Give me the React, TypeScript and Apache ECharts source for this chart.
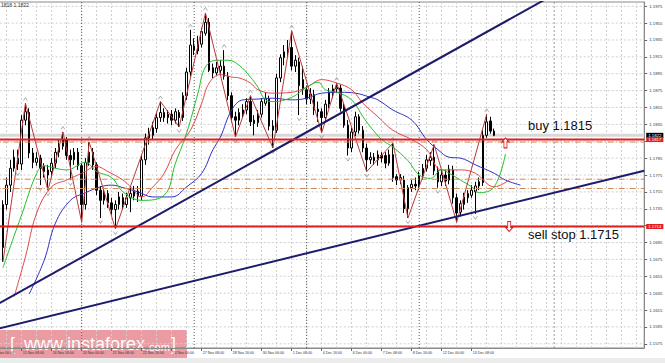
import { useEffect, useRef } from 'react';
import * as echarts from 'echarts';

const MONTHS = ['Jan', 'Feb', 'Mar', 'Apr', 'May', 'Jun', 'Jul', 'Aug', 'Sep', 'Oct', 'Nov', 'Dec'];
const START_UTC = Date.UTC(2017, 10, 14, 0, 0);
const BAR_COUNT = 175;
const LEAD = 3; // H4 bars before the first drawn candle (14 Nov 00:00 .. 08:00)

// OHLC of the H4 candles, from 14 Nov 12:00
const opens = [
  1.1689, 1.1740, 1.1763, 1.1783, 1.1795, 1.1788, 1.1840, 1.1849, 1.1801, 1.1790,
  1.1795, 1.1785, 1.1775, 1.1779, 1.1789, 1.1802, 1.1809, 1.1817, 1.1798, 1.1793,
  1.1802, 1.1786, 1.1740, 1.1790, 1.1802, 1.1787, 1.1757, 1.1745, 1.1753, 1.1742,
  1.1734, 1.1740, 1.1748, 1.1740, 1.1748, 1.1750, 1.1756, 1.1750, 1.1793, 1.1819,
  1.1822, 1.1830, 1.1843, 1.1849, 1.1843, 1.1847, 1.1840, 1.1849, 1.1843, 1.1869,
  1.1897, 1.1928, 1.1922, 1.1930, 1.1943, 1.1956, 1.1902, 1.1896, 1.1899, 1.1904,
  1.1892, 1.1869, 1.1844, 1.1840, 1.1847, 1.1852, 1.1862, 1.1840, 1.1837, 1.1847,
  1.1860, 1.1865, 1.1833, 1.1828, 1.1890, 1.1914, 1.1921, 1.1926, 1.1904, 1.1909,
  1.1888, 1.1876, 1.1865, 1.1870, 1.1853, 1.1850, 1.1843, 1.1859, 1.1872, 1.1877,
  1.1878, 1.1856, 1.1834, 1.1807, 1.1826, 1.1844, 1.1828, 1.1807, 1.1793, 1.1796,
  1.1793, 1.1798, 1.1798, 1.1789, 1.1799, 1.1773, 1.1769, 1.1769, 1.1735, 1.1760,
  1.1764, 1.1762, 1.1774, 1.1783, 1.1792, 1.1796, 1.1780, 1.1767, 1.1775, 1.1769,
  1.1781, 1.1748, 1.1731, 1.1740, 1.1748, 1.1751, 1.1755, 1.1762, 1.1766, 1.1822,
  1.1839, 1.1827,
];
const closes = [
  1.1740, 1.1763, 1.1783, 1.1796, 1.1788, 1.1840, 1.1850, 1.1801, 1.1790, 1.1795,
  1.1783, 1.1779, 1.1781, 1.1789, 1.1802, 1.1811, 1.1817, 1.1798, 1.1793, 1.1802,
  1.1786, 1.1740, 1.1790, 1.1802, 1.1787, 1.1757, 1.1745, 1.1754, 1.1742, 1.1734,
  1.1740, 1.1749, 1.1740, 1.1748, 1.1753, 1.1757, 1.1750, 1.1793, 1.1819, 1.1824,
  1.1831, 1.1843, 1.1849, 1.1843, 1.1847, 1.1840, 1.1850, 1.1843, 1.1869, 1.1897,
  1.1929, 1.1923, 1.1930, 1.1945, 1.1956, 1.1899, 1.1896, 1.1902, 1.1904, 1.1892,
  1.1869, 1.1843, 1.1840, 1.1849, 1.1852, 1.1862, 1.1838, 1.1836, 1.1846, 1.1862,
  1.1866, 1.1833, 1.1828, 1.1890, 1.1914, 1.1921, 1.1924, 1.1904, 1.1911, 1.1881,
  1.1876, 1.1865, 1.1871, 1.1852, 1.1850, 1.1843, 1.1859, 1.1873, 1.1877, 1.1879,
  1.1854, 1.1834, 1.1807, 1.1826, 1.1844, 1.1828, 1.1807, 1.1793, 1.1796, 1.1792,
  1.1799, 1.1795, 1.1789, 1.1799, 1.1772, 1.1769, 1.1772, 1.1735, 1.1760, 1.1764,
  1.1762, 1.1774, 1.1783, 1.1793, 1.1796, 1.1780, 1.1767, 1.1775, 1.1768, 1.1782,
  1.1748, 1.1730, 1.1741, 1.1749, 1.1753, 1.1757, 1.1762, 1.1767, 1.1822, 1.1838,
  1.1827, 1.1822,
];
const lows = [
  1.1672, 1.1734, 1.1755, 1.1779, 1.1781, 1.1781, 1.1834, 1.1795, 1.1783, 1.1786,
  1.1763, 1.1772, 1.1757, 1.1772, 1.1783, 1.1796, 1.1805, 1.1793, 1.1769, 1.1787,
  1.1781, 1.1719, 1.1734, 1.1786, 1.1781, 1.1751, 1.1724, 1.1740, 1.1736, 1.1728,
  1.1711, 1.1734, 1.1734, 1.1736, 1.1731, 1.1745, 1.1743, 1.1745, 1.1787, 1.1811,
  1.1817, 1.1825, 1.1838, 1.1838, 1.1836, 1.1834, 1.1836, 1.1832, 1.1839, 1.1864,
  1.1892, 1.1917, 1.1918, 1.1926, 1.1940, 1.1897, 1.1890, 1.1892, 1.1895, 1.1888,
  1.1864, 1.1838, 1.1820, 1.1834, 1.1843, 1.1847, 1.1833, 1.1822, 1.1832, 1.1843,
  1.1857, 1.1828, 1.1807, 1.1825, 1.1885, 1.1905, 1.1914, 1.1899, 1.1897, 1.1846,
  1.1870, 1.1859, 1.1859, 1.1846, 1.1838, 1.1825, 1.1838, 1.1854, 1.1866, 1.1872,
  1.1850, 1.1831, 1.1798, 1.1802, 1.1821, 1.1824, 1.1802, 1.1779, 1.1788, 1.1787,
  1.1786, 1.1790, 1.1783, 1.1786, 1.1767, 1.1763, 1.1764, 1.1730, 1.1724, 1.1755,
  1.1757, 1.1757, 1.1769, 1.1779, 1.1786, 1.1775, 1.1760, 1.1762, 1.1762, 1.1764,
  1.1741, 1.1719, 1.1726, 1.1734, 1.1742, 1.1748, 1.1729, 1.1757, 1.1762, 1.1819,
  1.1824, 1.1821,
];
const highs = [
  1.1745, 1.1772, 1.1793, 1.1805, 1.1805, 1.1846, 1.1860, 1.1854, 1.1807, 1.1802,
  1.1799, 1.1789, 1.1787, 1.1795, 1.1807, 1.1817, 1.1826, 1.1820, 1.1805, 1.1807,
  1.1807, 1.1789, 1.1795, 1.1814, 1.1807, 1.1790, 1.1762, 1.1760, 1.1757, 1.1748,
  1.1745, 1.1755, 1.1753, 1.1754, 1.1760, 1.1762, 1.1762, 1.1799, 1.1824, 1.1831,
  1.1838, 1.1849, 1.1862, 1.1854, 1.1852, 1.1852, 1.1854, 1.1852, 1.1873, 1.1902,
  1.1947, 1.1937, 1.1940, 1.1949, 1.1967, 1.1961, 1.1907, 1.1909, 1.1911, 1.1923,
  1.1897, 1.1873, 1.1850, 1.1854, 1.1859, 1.1866, 1.1869, 1.1846, 1.1852, 1.1866,
  1.1873, 1.1869, 1.1840, 1.1895, 1.1918, 1.1929, 1.1935, 1.1946, 1.1917, 1.1914,
  1.1904, 1.1881, 1.1878, 1.1876, 1.1862, 1.1854, 1.1864, 1.1878, 1.1882, 1.1884,
  1.1882, 1.1860, 1.1840, 1.1831, 1.1850, 1.1847, 1.1833, 1.1812, 1.1802, 1.1801,
  1.1804, 1.1802, 1.1802, 1.1805, 1.1813, 1.1776, 1.1776, 1.1774, 1.1763, 1.1769,
  1.1772, 1.1779, 1.1788, 1.1799, 1.1802, 1.1811, 1.1785, 1.1781, 1.1781, 1.1787,
  1.1786, 1.1753, 1.1745, 1.1754, 1.1757, 1.1763, 1.1767, 1.1772, 1.1828, 1.1847,
  1.1844, 1.1830,
];

// Alligator lines: [bar index, price]
const lipsGreen = [
  [0, 1.1665], [1, 1.1678], [5, 1.1728], [9, 1.1777], [11, 1.1786], [14, 1.1783], [17, 1.1781],
  [22, 1.1790], [25, 1.1779], [29, 1.1772], [32, 1.1755], [37, 1.1745], [43, 1.1751],
  [46, 1.1789], [49, 1.1825], [52, 1.1872], [54, 1.1903], [57, 1.1911], [60, 1.1911],
  [63, 1.1905], [66, 1.1891], [68, 1.1879], [70, 1.1864], [72, 1.1862], [77, 1.1867],
  [81, 1.1879], [84, 1.1885], [86, 1.1876], [89, 1.1873], [93, 1.1864], [96, 1.1844],
  [98, 1.1832], [101, 1.1817], [104, 1.1808], [108, 1.1792], [111, 1.1775], [114, 1.1771],
  [117, 1.1781], [119, 1.1777], [122, 1.1769], [125, 1.1761], [127, 1.1754], [131, 1.1761],
  [134, 1.1800],
];
const teethRed = [
  [3, 1.1631], [6, 1.1678], [9, 1.1730], [13, 1.1761], [17, 1.1769], [21, 1.1777], [25, 1.1785],
  [28, 1.1779], [32, 1.1769], [34, 1.1761], [37, 1.1749], [40, 1.1761], [43, 1.1777],
  [46, 1.1805], [50, 1.1828], [53, 1.1860], [55, 1.1884], [58, 1.1894], [61, 1.1891],
  [63, 1.1890], [66, 1.1884], [68, 1.1876], [72, 1.1872], [77, 1.1873], [81, 1.1879],
  [85, 1.1888], [89, 1.1884], [93, 1.1876], [96, 1.1860], [100, 1.1844], [104, 1.1828],
  [109, 1.1817], [113, 1.1805], [117, 1.1781], [122, 1.1781], [126, 1.1777], [131, 1.1761],
  [135, 1.1769],
];
const jawBlue = [
  [7, 1.1634], [11, 1.1674], [14, 1.1718], [18, 1.1745], [22, 1.1754], [26, 1.1761], [29, 1.1763],
  [32, 1.1760], [36, 1.1755], [40, 1.1749], [45, 1.1749], [49, 1.1761], [53, 1.1777],
  [56, 1.1805], [58, 1.1820], [61, 1.1852], [64, 1.1864], [68, 1.1865], [72, 1.1866],
  [77, 1.1864], [81, 1.1866], [85, 1.1872], [90, 1.1873], [94, 1.1872], [98, 1.1867],
  [100, 1.1864], [104, 1.1852], [109, 1.1840], [113, 1.1817], [116, 1.1805], [119, 1.1796],
  [122, 1.1795], [126, 1.1787], [131, 1.1777], [134, 1.1769], [138, 1.1763],
];

// ZigZag pivots (bar index, H = high / L = low)
const zigzagPivots: [number, 'H' | 'L'][] = [
  [0, 'L'], [6, 'H'], [12, 'L'], [16, 'H'], [21, 'L'], [23, 'H'], [30, 'L'], [42, 'H'],
  [47, 'L'], [54, 'H'], [62, 'L'], [66, 'H'], [72, 'L'], [77, 'H'], [85, 'L'], [89, 'H'],
  [97, 'L'], [104, 'H'], [108, 'L'], [115, 'H'], [121, 'L'], [129, 'H'],
];
// Fractal arrows
const fractalUp = [6, 16, 23, 42, 50, 54, 59, 66, 77, 89, 104, 115, 129];
const fractalDown = [4, 10, 12, 18, 21, 26, 30, 47, 62, 72, 79, 85, 92, 97, 108, 116, 121, 126];

// Trend lines: [category index, price]
const steepTrend = [[0, 1.1618], [150, 1.1989]];
const flatTrend = [[0, 1.1591], [174, 1.1780]];

// Price scale
const priceTicks = [
  1.1575, 1.1595, 1.1615, 1.1635, 1.1655, 1.1675, 1.1695, 1.1715, 1.1735, 1.1755, 1.1775,
  1.1795, 1.1815, 1.1835, 1.1855, 1.1875, 1.1895, 1.1915, 1.1935, 1.1955, 1.1975,
];
const hiddenTickLabels = [1.1715, 1.1815];
const priceMin = 1.157;
const priceMax = 1.198;

// Horizontal / vertical objects
const buyLevel = 1.1817;
const sellLevel = 1.1714;
const bidPrice = 1.1822;
const dashDotLevels = [1.1814, 1.177, 1.1759];
const weekSeparators = [24, 54, 84, 114];
const markerLine = 150;

const buyText = 'buy 1.1815';
const sellText = 'sell stop 1.1715';
const buyTextAt = [143, 1.1834];
const sellTextAt = [143, 1.1704];
const buyArrowAt = [137, 1.1813];
const sellArrowAt = [138, 1.1714];
const headerText = '1818 1.1822';

function buildTimes(n: number): string[] {
  const out: string[] = [];
  let t = START_UTC;
  while (out.length < n) {
    const d = new Date(t);
    const wd = d.getUTCDay();
    if (wd !== 0 && wd !== 6) {
      out.push(`${d.getUTCDate()} ${MONTHS[d.getUTCMonth()]} ${String(d.getUTCHours()).padStart(2, '0')}:00`);
    }
    t += 4 * 3600 * 1000;
  }
  return out;
}

const ARROW = 'path://M3.5,0 L7,4 L5,4 L5,10 L2,10 L2,4 L0,4 Z';
const FONT = 'Liberation Sans, Arial, sans-serif';
const LAST_K = BAR_COUNT - 1;

function hLine(name: string, v: number, lineStyle: any, z: number, label?: any): any {
  return {
    name,
    type: 'line',
    data: [[0, v], [LAST_K, v]],
    symbol: 'none',
    silent: true,
    z,
    lineStyle,
    endLabel: label ? label : { show: false },
  };
}
function vLine(name: string, k: number, lineStyle: any, z: number): any {
  return {
    name,
    type: 'line',
    data: [[k, priceMin], [k, priceMax]],
    symbol: 'none',
    silent: true,
    z,
    lineStyle,
  };
}

export default function App() {
  const ref = useRef<HTMLDivElement>(null);
  useEffect(() => {
    document.body.style.margin = '0';
    const chart = echarts.init(ref.current!, undefined, { renderer: 'svg' });
    const times = buildTimes(BAR_COUNT);
    const lastBar = LEAD + opens.length - 1;
    const labelOn = (k: number) => k % 8 === 0 && k <= lastBar;
    const candles = opens.map((o, i) => [i + LEAD, o, closes[i], lows[i], highs[i]]);
    const shift = (arr: number[][]) => arr.map(([i, v]) => [i + LEAD, v]);

    const priceBox = (v: number, bg: string) => ({
      show: true,
      formatter: v.toFixed(4),
      color: '#fff',
      backgroundColor: bg,
      fontSize: 4.3,
      fontFamily: FONT,
      padding: [1, 2, 0, 2],
      distance: 2,
    });

    const gridSeries = priceTicks.map((v, n) =>
      hLine('gridY' + n, v, { color: '#cfcfcf', type: [2, 2], width: 1 }, 1),
    );
    const sepSeries = weekSeparators.map((k, n) =>
      vLine('sep' + n, k, { color: '#5a5a5a', type: [1, 2], width: 1 }, 1),
    );
    const dashSeries = dashDotLevels.map((v, n) =>
      hLine('dash' + n, v, { color: '#d08a5c', type: [6, 2, 1, 2], width: 1 }, 4),
    );

    const option: any = {
      animation: false,
      backgroundColor: '#ffffff',
      grid: {
        left: -8.3,
        top: 2,
        width: 652.5,
        height: 346,
        show: true,
        borderColor: '#8a8a8a',
        borderWidth: 1,
        backgroundColor: 'transparent',
        containLabel: false,
        outerBoundsMode: 'none',
      },
      xAxis: {
        type: 'category',
        data: times,
        boundaryGap: false,
        axisLine: { show: true, lineStyle: { color: '#8a8a8a' } },
        axisTick: { show: true, interval: (k: number) => labelOn(k), length: 3, lineStyle: { color: '#666' } },
        axisLabel: {
          interval: (k: number) => labelOn(k),
          align: 'left',
          fontSize: 3.6,
          fontFamily: FONT,
          color: '#333',
          margin: 3,
          padding: [0, 0, 0, 1],
        },
        splitLine: {
          show: true,
          interval: (k: number) => k % 4 === 0,
          lineStyle: { color: '#cfcfcf', type: [2, 2], width: 1 },
        },
      },
      yAxis: {
        type: 'value',
        position: 'right',
        min: priceMin,
        max: priceMax,
        splitLine: { show: false },
        axisLine: { show: true, lineStyle: { color: '#8a8a8a' } },
        axisTick: { show: true, customValues: priceTicks, length: 3, lineStyle: { color: '#666' } },
        axisLabel: {
          customValues: priceTicks.filter((v) => !hiddenTickLabels.includes(v)),
          formatter: (v: number) => v.toFixed(4),
          fontSize: 4.3,
          fontFamily: FONT,
          color: '#333',
          margin: 5,
        },
      },
      series: [
        ...gridSeries,
        ...sepSeries,
        vLine('shiftLine', markerLine, { color: '#9a9a9a', type: [2, 2], width: 1 }, 1),
        hLine('bid', bidPrice, { color: '#d8d8d8', type: 'solid', width: 3 }, 1, priceBox(bidPrice, '#000')),
        {
          name: 'EURUSD',
          type: 'candlestick',
          data: candles,
          encode: { x: 0, y: [1, 2, 3, 4] },
          barWidth: 2,
          z: 2,
          itemStyle: {
            color: '#ffffff',
            color0: '#000000',
            borderColor: '#000000',
            borderColor0: '#000000',
            borderWidth: 1,
          },
        },
        {
          name: 'Jaw',
          type: 'line',
          data: shift(jawBlue),
          smooth: 0.4,
          symbol: 'none',
          z: 3,
          lineStyle: { color: '#3030c8', width: 1 },
        },
        {
          name: 'Teeth',
          type: 'line',
          data: shift(teethRed),
          smooth: 0.4,
          symbol: 'none',
          z: 3,
          lineStyle: { color: '#e04848', width: 1 },
        },
        {
          name: 'Lips',
          type: 'line',
          data: shift(lipsGreen),
          smooth: 0.4,
          symbol: 'none',
          z: 3,
          lineStyle: { color: '#22c02a', width: 1 },
        },
        {
          name: 'ZigZag',
          type: 'line',
          data: zigzagPivots.map(([i, t]) => [i + LEAD, t === 'H' ? highs[i] : lows[i]]),
          symbol: 'none',
          z: 3,
          lineStyle: { color: '#b83a3a', width: 1 },
        },
        {
          name: 'FractalUp',
          type: 'scatter',
          data: fractalUp.map((i) => [i + LEAD, highs[i]]),
          symbol: 'path://M0,6 L3,0 L6,6',
          symbolSize: [4, 3],
          symbolOffset: [0, -4],
          z: 3,
          itemStyle: { color: 'transparent', borderColor: '#7c7c7c', borderWidth: 0.8 },
        },
        {
          name: 'FractalDown',
          type: 'scatter',
          data: fractalDown.map((i) => [i + LEAD, lows[i]]),
          symbol: 'path://M0,0 L3,6 L6,0',
          symbolSize: [4, 3],
          symbolOffset: [0, 4],
          z: 3,
          itemStyle: { color: 'transparent', borderColor: '#7c7c7c', borderWidth: 0.8 },
        },
        ...dashSeries,
        {
          name: 'Trend1',
          type: 'line',
          data: steepTrend,
          symbol: 'none',
          z: 4,
          lineStyle: { color: '#1c1c6a', width: 2 },
        },
        {
          name: 'Trend2',
          type: 'line',
          data: flatTrend,
          symbol: 'none',
          z: 4,
          lineStyle: { color: '#1c1c6a', width: 2 },
        },
        hLine('sell', sellLevel, { color: '#e01e1e', type: 'solid', width: 2 }, 5, priceBox(sellLevel, '#e01e1e')),
        {
          ...hLine('buy', buyLevel, { color: '#e01e1e', type: 'solid', width: 2 }, 5, priceBox(buyLevel, '#e01e1e')),
          markPoint: {
            silent: true,
            z: 7,
            data: [
              {
                coord: buyTextAt,
                symbol: 'circle',
                symbolSize: 0,
                label: { show: true, position: 'right', distance: 0, formatter: buyText, fontSize: 13, fontFamily: FONT, color: '#111' },
              },
              {
                coord: sellTextAt,
                symbol: 'circle',
                symbolSize: 0,
                label: { show: true, position: 'right', distance: 0, formatter: sellText, fontSize: 13, fontFamily: FONT, color: '#111' },
              },
              {
                coord: buyArrowAt,
                symbol: ARROW,
                symbolSize: [7, 10],
                itemStyle: { color: '#ffffff', borderColor: '#e01e1e', borderWidth: 1 },
                label: { show: false },
              },
              {
                coord: sellArrowAt,
                symbol: ARROW,
                symbolSize: [7, 10],
                symbolRotate: 180,
                itemStyle: { color: '#ffffff', borderColor: '#e01e1e', borderWidth: 1 },
                label: { show: false },
              },
            ],
          },
        },
      ],
      graphic: [
        {
          type: 'rect',
          z: 50,
          silent: true,
          shape: { x: 0, y: 358, width: 665, height: 5 },
          style: { fill: '#ececec' },
        },
        {
          type: 'text',
          z: 60,
          silent: true,
          x: 1,
          y: 5,
          style: { text: headerText, fontSize: 5, fontFamily: FONT, fill: '#333', verticalAlign: 'middle' },
        },
        {
          type: 'group',
          z: 100,
          silent: true,
          children: [
            {
              type: 'rect',
              shape: { x: 0, y: 330, width: 187, height: 29 },
              style: { fill: 'rgba(214, 58, 70, 0.5)' },
            },
            {
              type: 'text',
              x: 10,
              y: 344,
              style: { text: '[', fontSize: 18, fontFamily: FONT, fill: '#ffffff', verticalAlign: 'middle' },
            },
            {
              type: 'text',
              x: 24,
              y: 344,
              style: { text: 'www.instaforex', fontSize: 18, fontFamily: FONT, fill: '#ffffff', verticalAlign: 'middle' },
            },
            {
              type: 'text',
              x: 146,
              y: 346.5,
              style: { text: '.com', fontSize: 11, fontFamily: FONT, fill: '#ffffff', verticalAlign: 'middle' },
            },
            {
              type: 'text',
              x: 171,
              y: 344,
              style: { text: ']', fontSize: 18, fontFamily: FONT, fill: '#ffffff', verticalAlign: 'middle' },
            },
          ],
        },
      ],
    };
    chart.setOption(option);
    return () => chart.dispose();
  }, []);
  return (
    <div
      ref={ref}
      style={{ position: 'fixed', left: 0, top: 0, width: 665, height: 363, background: '#ffffff' }}
    />
  );
}
